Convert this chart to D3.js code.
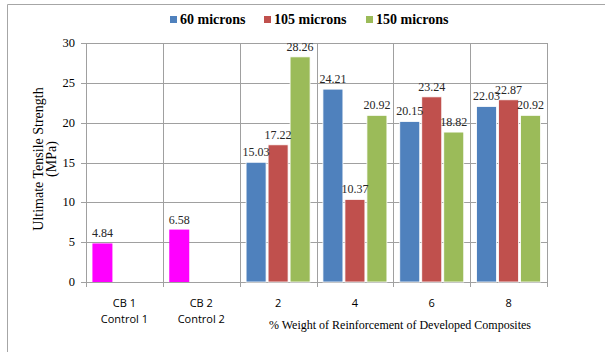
<!DOCTYPE html>
<html lang="en">
<head>
<meta charset="UTF-8">
<title>Ultimate Tensile Strength</title>
<script src="https://d3js.org/d3.v7.min.js"></script>
<style>
  body { margin: 0; background: #fff; }
  svg { display: block; }
</style>
</head>
<body>
<script>
  // data
  const categories = ["CB 1|Control 1", "CB 2|Control 2", "2", "4", "6", "8"];
  const seriesNames = ["60 microns", "105 microns", "150 microns"];
  const colors = ["#4F81BD", "#C0504D", "#9BBB59"];
  const controlColor = "#FF00FF";
  const s60 = [4.84, 6.58, 15.03, 24.21, 20.15, 22.03];
  const s105 = [null, null, 17.22, 10.37, 23.24, 22.87];
  const s150 = [null, null, 28.26, 20.92, 18.82, 20.92];
  const yTicks = [0, 5, 10, 15, 20, 25, 30];

  const SERIF = "Liberation Serif";
  const SANS = "Open Sans";

  const width = 605, height = 352;
  const plot = { left: 86, right: 547, top: 43, bottom: 282 };

  const svg = d3.select("body").append("svg")
    .attr("width", width)
    .attr("height", height);

  // chart border (left and top only visible)
  svg.append("line").attr("x1", 7.5).attr("x2", 7.5).attr("y1", 4.5).attr("y2", height)
    .attr("stroke", "#A6A6A6");
  svg.append("line").attr("x1", 7.5).attr("x2", width).attr("y1", 4.5).attr("y2", 4.5)
    .attr("stroke", "#A6A6A6");

  const x = d3.scaleBand().domain(categories).range([plot.left, plot.right]);
  const y = d3.scaleLinear().domain([0, 30]).range([plot.bottom, plot.top]);

  const barW = 20, pitch = 22;
  const off = (x.bandwidth() - (pitch * 2 + barW)) / 2;
  const inner = d3.scaleBand().domain([0, 1, 2]).range([off, off + pitch * 3]);

  // horizontal grid
  svg.append("g").selectAll("line").data(yTicks).join("line")
    .attr("x1", plot.left - 5).attr("x2", plot.right)
    .attr("y1", d => Math.round(y(d)) + 0.5).attr("y2", d => Math.round(y(d)) + 0.5)
    .attr("stroke", "#A0A0A0");

  // vertical grid at category boundaries
  const bounds = categories.map(c => x(c)).concat([plot.right]);
  svg.append("g").selectAll("line").data(bounds).join("line")
    .attr("x1", d => Math.round(d) + 0.5).attr("x2", d => Math.round(d) + 0.5)
    .attr("y1", plot.top).attr("y2", plot.bottom + 5)
    .attr("stroke", "#A0A0A0");

  // y tick labels
  svg.append("g").selectAll("text").data(yTicks).join("text")
    .attr("font-family", SERIF)
    .attr("x", 75).attr("y", d => y(d) + 4)
    .attr("text-anchor", "end")
    .attr("font-size", 12.5)
    .attr("fill", "#000")
    .text(d => d);

  // bars
  const all = [s60, s105, s150];
  const bars = [];
  all.forEach((vals, si) => {
    vals.forEach((v, ci) => {
      if (v == null) return;
      bars.push({ si, ci, v });
    });
  });

  const barG = svg.append("g");
  barG.selectAll("rect").data(bars).join("rect")
    .attr("x", d => x(categories[d.ci]) + inner(d.si))
    .attr("y", d => y(d.v))
    .attr("width", barW)
    .attr("height", d => y(0) - y(d.v))
    .attr("fill", d => d.ci < 2 ? controlColor : colors[d.si])
    .attr("stroke", d => d.ci < 2 ? "none" : "#fff")
    .attr("stroke-width", 0.8);

  barG.selectAll("text").data(bars).join("text")
    .attr("font-family", SERIF)
    .attr("x", d => x(categories[d.ci]) + inner(d.si) + barW / 2)
    .attr("y", d => y(d.v) - 6)
    .attr("text-anchor", "middle")
    .attr("font-size", 12)
    .attr("fill", "#262626")
    .text(d => d.v.toFixed(2));

  // category labels
  const catG = svg.append("g");
  categories.forEach(c => {
    c.split("|").forEach((t, i) => {
      catG.append("text")
        .attr("font-family", SANS)
        .attr("x", x(c) + x.bandwidth() / 2)
        .attr("y", 307 + i * 16)
        .attr("text-anchor", "middle")
        .attr("font-size", 11)
        .attr("fill", "#000")
        .text(t);
    });
  });

  // x axis title
  svg.append("text")
    .attr("font-family", SERIF)
    .attr("x", 400).attr("y", 329)
    .attr("text-anchor", "middle")
    .attr("font-size", 12)
    .text("% Weight of Reinforcement of Developed Composites");

  // y axis title
  const yt = svg.append("text")
    .attr("font-family", SERIF)
    .attr("transform", "translate(43,159) rotate(-90)")
    .attr("text-anchor", "middle")
    .attr("font-size", 14);
  yt.append("tspan").attr("x", 0).attr("dy", 0).text("Ultimate Tensile Strength");
  yt.append("tspan").attr("x", 0).attr("dy", 13).text("(MPa)");

  // legend
  const legendX = [170, 264, 366];
  const lg = svg.append("g");
  seriesNames.forEach((n, i) => {
    lg.append("rect").attr("x", legendX[i]).attr("y", 16).attr("width", 7).attr("height", 7)
      .attr("fill", colors[i]);
    lg.append("text").attr("font-family", SERIF).attr("x", legendX[i] + 10).attr("y", 24)
      .attr("font-size", 14).attr("font-weight", "bold")
      .text(n);
  });
</script>
</body>
</html>
